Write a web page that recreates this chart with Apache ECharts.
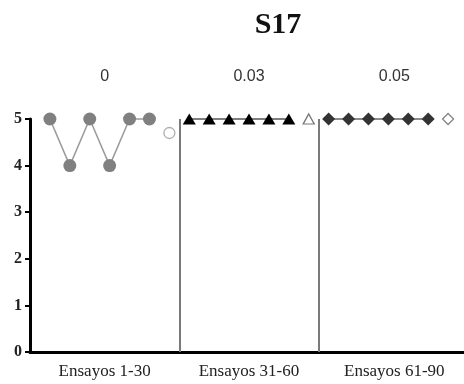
<!DOCTYPE html>
<html>
<head>
<meta charset="utf-8">
<script src="https://cdn.jsdelivr.net/npm/echarts@6/dist/echarts.min.js"></script>
<style>
  html, body { margin: 0; padding: 0; background: #fff; }
  #chart { width: 464px; height: 384px; }
</style>
</head>
<body>
<div id="chart"></div>
<script>
// Subject S17: response level per block of trials, three conditions
const titleText = 'S17';
const phaseLabels = ['Ensayos 1-30', 'Ensayos 31-60', 'Ensayos 61-90'];
const phaseDoses = ['0', '0.03', '0.05'];
const yTicks = [0, 1, 2, 3, 4, 5];

// Block values for each phase (filled markers), then the summary point (open marker)
const phase1Values = [5, 4, 5, 4, 5, 5];
const phase1Summary = 4.7;
const phase2Values = [5, 5, 5, 5, 5, 5];
const phase2Summary = 5;
const phase3Values = [5, 5, 5, 5, 5, 5];
const phase3Summary = 5;

// Positions along the trial axis: each phase takes 7 slots (6 blocks + summary)
const slotsPerPhase = 7;
function phasePoints(values, phase) {
  return values.map((v, i) => [phase * slotsPerPhase + i + 1, v]);
}
function summaryPoint(value, phase) {
  return [[phase * slotsPerPhase + slotsPerPhase, value]];
}
const dividers = [slotsPerPhase + 0.5, 2 * slotsPerPhase + 0.5];
const phaseCenters = [3.75, 11, 18.3];
const xMax = 21.8;

const serif = '"Liberation Serif", "Times New Roman", serif';
const sans = '"Liberation Sans", Arial, sans-serif';

const chart = echarts.init(document.getElementById('chart'));

function labelFor(list) {
  return function (val) {
    const idx = phaseCenters.findIndex(c => Math.abs(c - val) < 1e-6);
    return idx >= 0 ? list[idx] : '';
  };
}

function summarySeries(point, symbol, size, stroke) {
  return {
    type: 'scatter', clip: false,
    data: point,
    symbol: symbol, symbolSize: size,
    itemStyle: { color: '#fff', borderColor: stroke, borderWidth: 1.3 }
  };
}

chart.setOption({
  animation: false,
  backgroundColor: '#fff',
  graphic: [{
    type: 'text',
    x: 278, y: 25,
    style: {
      text: titleText,
      font: 'bold 30px ' + serif,
      fill: '#111',
      textAlign: 'center',
      textVerticalAlign: 'middle'
    }
  }],
  grid: { left: 30, right: 0, top: 119, bottom: 32, containLabel: false },
  xAxis: [{
    type: 'value',
    position: 'bottom',
    min: 0, max: xMax,
    axisLine: { show: true, lineStyle: { color: '#000', width: 3 } },
    axisTick: { show: false },
    splitLine: { show: false },
    axisLabel: {
      customValues: phaseCenters,
      formatter: labelFor(phaseLabels),
      fontFamily: serif, fontSize: 17, color: '#222', margin: 11
    }
  }, {
    type: 'value',
    position: 'top',
    min: 0, max: xMax,
    axisLine: { show: false },
    axisTick: { show: false },
    splitLine: { show: false },
    axisLabel: {
      customValues: phaseCenters,
      formatter: labelFor(phaseDoses),
      fontFamily: sans, fontSize: 16, color: '#333', margin: 34
    }
  }],
  yAxis: {
    type: 'value',
    min: yTicks[0], max: yTicks[yTicks.length - 1], interval: 1,
    axisLine: { show: true, lineStyle: { color: '#000', width: 3 } },
    axisTick: { show: true, length: 5, lineStyle: { color: '#000', width: 2 } },
    splitLine: { show: false },
    axisLabel: { fontFamily: serif, fontWeight: 'bold', fontSize: 16, color: '#222', margin: 8 }
  },
  series: [
    {
      type: 'line', clip: false,
      data: phasePoints(phase1Values, 0),
      symbol: 'circle', symbolSize: 13,
      itemStyle: { color: '#808080' },
      lineStyle: { color: '#9a9a9a', width: 1.5 },
      markLine: {
        silent: true, symbol: 'none', label: { show: false },
        lineStyle: { color: '#7a7a7a', width: 2, type: 'solid' },
        data: dividers.map(d => ({ xAxis: d }))
      }
    },
    summarySeries(summaryPoint(phase1Summary, 0), 'circle', 11, '#9a9a9a'),
    {
      type: 'line', clip: false,
      data: phasePoints(phase2Values, 1),
      symbol: 'triangle', symbolSize: [13, 11],
      itemStyle: { color: '#000' },
      lineStyle: { color: '#555', width: 1.5 }
    },
    summarySeries(summaryPoint(phase2Summary, 1), 'triangle', [11, 10], '#555'),
    {
      type: 'line', clip: false,
      data: phasePoints(phase3Values, 2),
      symbol: 'diamond', symbolSize: 13,
      itemStyle: { color: '#333' },
      lineStyle: { color: '#666', width: 1.5 }
    },
    summarySeries(summaryPoint(phase3Summary, 2), 'diamond', 11, '#666')
  ]
});
</script>
</body>
</html>
